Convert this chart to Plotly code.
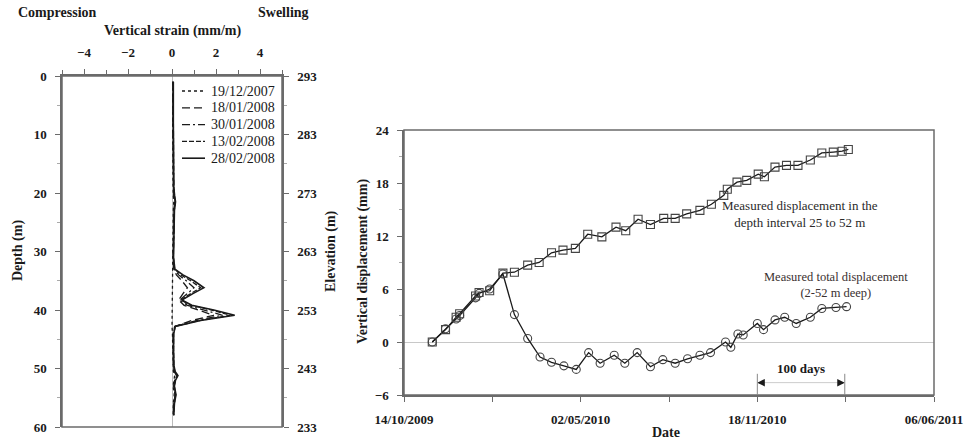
import pandas as pd
import plotly.graph_objects as go

# ---------------- Strain profiles (left panel) ----------------
depth_m = [1, 4, 8, 12, 16, 19, 20.5, 21.5, 23, 26, 29, 31, 33, 34, 35, 36.2, 37.2,
           38.3, 39.2, 40, 40.9, 41.8, 42.8, 44, 47, 49.5, 50.5, 51.2, 52, 53, 54.5, 56, 58]

strain_2007_12_19 = [0.03, 0.02, 0.03, 0.04, 0.03, 0.05, 0.06, 0.08, 0.06, 0.05, 0.04, 0.03, 0.04,
                     0.02, 0.0, 0.0, 0.0, 0.0, 0.0, 0.0, 0.0, 0.0, 0.0, 0.02, 0.03, 0.04, 0.06,
                     0.12, 0.08, 0.05, 0.1, 0.06, 0.05]
strain_2008_01_18 = [0.04, 0.03, 0.04, 0.05, 0.05, 0.06, 0.08, 0.12, 0.08, 0.07, 0.06, 0.05, 0.08,
                     0.2, 0.45, 0.7, 0.5, 0.3, 0.55, 1.2, 1.9, 0.9, 0.12, 0.05, 0.05, 0.06, 0.1,
                     0.2, 0.12, 0.08, 0.14, 0.08, 0.06]
strain_2008_01_30 = [0.05, 0.04, 0.05, 0.06, 0.05, 0.07, 0.1, 0.14, 0.1, 0.08, 0.07, 0.06, 0.1,
                     0.3, 0.65, 1.0, 0.7, 0.35, 0.7, 1.5, 2.3, 1.1, 0.15, 0.06, 0.06, 0.07, 0.12,
                     0.22, 0.14, 0.09, 0.15, 0.1, 0.07]
strain_2008_02_13 = [0.05, 0.05, 0.05, 0.07, 0.06, 0.08, 0.11, 0.15, 0.1, 0.09, 0.08, 0.06, 0.12,
                     0.4, 0.85, 1.3, 0.85, 0.4, 0.85, 1.8, 2.65, 1.25, 0.15, 0.07, 0.07, 0.08, 0.13,
                     0.25, 0.15, 0.1, 0.17, 0.1, 0.08]
strain_2008_02_28 = [0.06, 0.05, 0.06, 0.07, 0.07, 0.08, 0.12, 0.16, 0.11, 0.1, 0.08, 0.07, 0.13,
                     0.5, 1.0, 1.45, 0.95, 0.45, 0.9, 1.9, 2.85, 1.3, 0.15, 0.08, 0.07, 0.09, 0.14,
                     0.27, 0.16, 0.11, 0.18, 0.11, 0.08]

profile_labels = ["19/12/2007", "18/01/2008", "30/01/2008", "13/02/2008", "28/02/2008"]
profile_values = [strain_2007_12_19, strain_2008_01_18, strain_2008_01_30,
                  strain_2008_02_13, strain_2008_02_28]
profile_dashes = ["3px,3px", "8px,4px", "8px,3px,2px,3px", "5px,2px", "solid"]

# ---------------- Displacement time series (right panel) ----------------
start_date = "2009-10-14"
interval_days = [32, 47, 59, 63, 81, 85, 97, 112, 125, 140, 153, 167, 180, 194, 208, 224, 240,
                 251, 265, 279, 294, 307, 320, 335, 348, 362, 366, 377, 388, 401, 408, 420, 433,
                 446, 460, 473, 486, 496, 503]
interval_disp = [0.0, 1.4, 2.8, 3.2, 5.2, 5.6, 5.8, 7.8, 7.9, 8.7, 9.0, 10.1, 10.4, 10.6, 12.2,
                 11.9, 13.0, 12.6, 13.9, 13.3, 14.0, 14.0, 14.5, 14.9, 15.6, 16.6, 17.3, 18.1,
                 18.3, 19.0, 18.7, 19.8, 20.0, 20.0, 20.6, 21.4, 21.5, 21.6, 21.8]

total_days = [32, 47, 59, 63, 81, 85, 97, 112, 125, 140, 154, 167, 181, 195, 209, 222, 238, 250,
              264, 279, 293, 307, 321, 335, 347, 364, 370, 378, 384, 400, 407, 420, 431, 444, 460,
              473, 489, 501]
total_disp = [0.0, 1.5, 2.6, 3.0, 5.0, 5.5, 6.0, 7.7, 3.1, 0.4, -1.7, -2.3, -2.7, -3.1, -1.2,
              -2.4, -1.5, -2.4, -1.2, -2.8, -2.0, -2.4, -1.9, -1.5, -1.2, 0.0, -0.6, 0.9, 0.8,
              2.1, 1.4, 2.5, 2.8, 2.1, 2.8, 3.8, 3.9, 4.0]

date_ticks = ["2009-10-14", "2010-05-02", "2010-11-18", "2011-06-06"]
date_tick_text = ["14/10/2009", "02/05/2010", "18/11/2010", "06/06/2011"]
span_start_day, span_end_day = 400, 499  # the "100 days" bracket


def to_dates(days):
    return pd.Timestamp(start_date) + pd.to_timedelta(days, unit="D")


FONT = "Liberation Serif"
INK = "#1a1a1a"
AXIS = "#6b6b6b"
W, H = 964, 439

fig = go.Figure()

for label, vals, dash in zip(profile_labels, profile_values, profile_dashes):
    fig.add_trace(go.Scatter(
        x=vals, y=depth_m, mode="lines", name=label, showlegend=False,
        line=dict(color=INK, width=1.6 if dash == "solid" else 1.3, dash=dash),
        xaxis="x", yaxis="y",
    ))

# invisible trace so the elevation axis is drawn
fig.add_trace(go.Scatter(x=[0, 0], y=[233, 293], mode="lines", opacity=0,
                         showlegend=False, hoverinfo="skip", xaxis="x", yaxis="y2"))

fig.add_trace(go.Scatter(
    x=to_dates(total_days), y=total_disp, mode="lines+markers", showlegend=False,
    line=dict(color=INK, width=1.3),
    marker=dict(symbol="circle-open", size=8, color="#444", line=dict(width=1.1)),
    xaxis="x2", yaxis="y3",
))
fig.add_trace(go.Scatter(
    x=to_dates(interval_days), y=interval_disp, mode="lines+markers", showlegend=False,
    line=dict(color=INK, width=1.3),
    marker=dict(symbol="square-open", size=8, color="#444", line=dict(width=1.1)),
    xaxis="x2", yaxis="y3",
))

tick_font = dict(family=FONT, size=13, color=INK, weight="bold")
axis_common = dict(showline=True, linecolor=AXIS, linewidth=1.5, mirror=False,
                   ticks="outside", ticklen=5, tickcolor=AXIS, showgrid=False,
                   tickfont=tick_font, automargin=False)

d_left = [62 / W, 282 / W]
d_left_y = [1 - 427 / H, 1 - 76 / H]
d_right = [404 / W, 934 / W]
d_right_y = [1 - 395 / H, 1 - 130 / H]

fig.update_layout(
    width=W, height=H,
    margin=dict(l=0, r=0, t=0, b=0, autoexpand=False),
    paper_bgcolor="white", plot_bgcolor="white",
    font=dict(family=FONT, color=INK),
    showlegend=False,
    xaxis=dict(axis_common, domain=d_left, range=[-5, 5], side="top", anchor="y",
               tickmode="array", tickvals=[-4, -2, 0, 2, 4], ticklabelstandoff=7,
               minor=dict(dtick=1, ticks="outside", ticklen=4, tickcolor=AXIS),
               zeroline=True, zerolinecolor="#bbbbbb", zerolinewidth=1),
    yaxis=dict(axis_common, domain=d_left_y, range=[60, 0], anchor="x", dtick=10,
               zeroline=False, ticklabelstandoff=6,
               minor=dict(dtick=5, ticks="outside", ticklen=3, tickcolor="#aaaaaa")),
    yaxis2=dict(axis_common, overlaying="y", side="right", anchor="x", range=[233, 293],
                tickmode="array", tickvals=[233, 243, 253, 263, 273, 283, 293],
                zeroline=False, ticklabelstandoff=6,
                minor=dict(tickmode="array", tickvals=[238, 248, 258, 268, 278, 288],
                           ticks="outside", ticklen=3, tickcolor="#aaaaaa")),
    xaxis2=dict(axis_common, domain=d_right, anchor="y3", type="date",
                range=[date_ticks[0], date_ticks[-1]],
                tickmode="array", tickvals=date_ticks, ticktext=date_tick_text,
                ticklabelstandoff=7,
                minor=dict(tickmode="array",
                           tickvals=["2010-01-22", "2010-08-10", "2011-02-26"],
                           ticks="outside", ticklen=5, tickcolor=AXIS),
                zeroline=False),
    yaxis3=dict(axis_common, domain=d_right_y, anchor="x2", range=[-6, 24], dtick=6,
                zeroline=True, zerolinecolor="#c8c8c8", zerolinewidth=1, ticklabelstandoff=6,
                minor=dict(dtick=3, ticks="outside", ticklen=3, tickcolor="#aaaaaa")),
)

# frames: close the boxes on the remaining sides
fig.add_shape(type="rect", xref="x domain", yref="y domain", x0=0, x1=1, y0=0, y1=1,
              line=dict(color=AXIS, width=1.5), layer="above")
fig.add_shape(type="rect", xref="x2 domain", yref="y3 domain", x0=0, x1=1, y0=0, y1=1,
              line=dict(color=AXIS, width=1.5), layer="above")

# key for the strain profiles, drawn inside the left frame
key_x0, key_x1, key_text_x, key_top, key_step = 182, 205, 209, 91, 16.8
for i, (label, dash) in enumerate(zip(profile_labels, profile_dashes)):
    ky = 1 - (key_top + i * key_step) / H
    fig.add_shape(type="line", xref="paper", yref="paper",
                  x0=key_x0 / W, x1=key_x1 / W, y0=ky, y1=ky,
                  line=dict(color=INK, width=1.6 if dash == "solid" else 1.3, dash=dash))
    fig.add_annotation(x=key_text_x / W, y=ky, xref="paper", yref="paper", text=label,
                       showarrow=False, xanchor="left", yanchor="middle",
                       font=dict(family=FONT, size=14, color=INK))

# "100 days" bracket
for d in (span_start_day, span_end_day):
    fig.add_shape(type="line", xref="x2", yref="y3",
                  x0=to_dates([d])[0], x1=to_dates([d])[0], y0=-3.6, y1=-6,
                  line=dict(color="#888888", width=1))
fig.add_shape(type="line", xref="x2", yref="y3",
              x0=to_dates([span_start_day])[0], x1=to_dates([span_end_day])[0],
              y0=-4.6, y1=-4.6, line=dict(color="#cccccc", width=1))
mid = to_dates([(span_start_day + span_end_day) / 2])[0]
for d in (span_start_day, span_end_day):
    end = to_dates([d])[0]
    step = 8 if d == span_start_day else -8
    fig.add_annotation(x=end, y=-4.6, xref="x2", yref="y3",
                       ax=to_dates([d + step])[0], ay=-4.6, axref="x2", ayref="y3",
                       showarrow=True, arrowhead=2, arrowsize=1, arrowwidth=1.5,
                       arrowcolor=INK, text="")
fig.add_annotation(x=mid, y=-3.0, xref="x2", yref="y3", text="100 days", showarrow=False,
                   font=dict(family=FONT, size=13, color=INK, weight="bold"))

title_font = dict(family=FONT, size=14, color=INK, weight="bold")
texts = [
    ("Compression", 57, 13, 0, title_font),
    ("Swelling", 283, 13, 0, title_font),
    ("Vertical strain (mm/m)", 172, 31, 0, title_font),
    ("Depth (m)", 18, 251, -90, title_font),
    ("Elevation (m)", 331, 251, -90, title_font),
    ("Vertical displacement (mm)", 363, 262, -90, title_font),
    ("Date", 666, 432, 0, title_font),
    ("Measured displacement in the<br>depth interval 25 to 52 m", 800, 214, 0,
     dict(family=FONT, size=13, color="#2a2a2a")),
    ("Measured total displacement<br>(2-52 m deep)", 836, 285, 0,
     dict(family=FONT, size=12.5, color="#3a3030")),
]
for t, px, py, ang, f in texts:
    fig.add_annotation(x=px / W, y=1 - py / H, xref="paper", yref="paper", text=t,
                       showarrow=False, textangle=ang, font=f,
                       xanchor="center", yanchor="middle")

fig.write_html("out.html")
